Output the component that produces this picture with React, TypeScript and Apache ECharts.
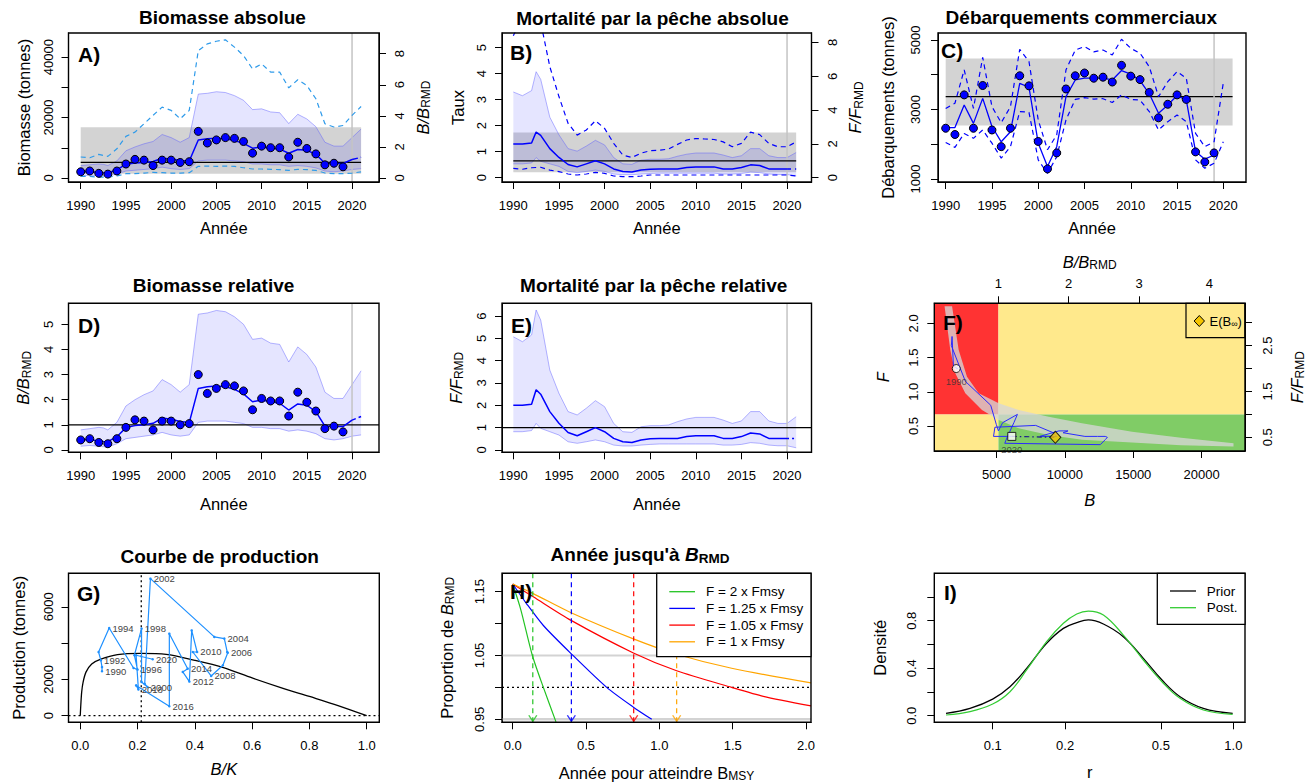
import React, { useEffect, useRef } from "react";
import * as echarts from "echarts";

const FONT = '"Liberation Sans", Arial, Helvetica, sans-serif';

// ---------------- DATA ----------------
// model years (with a half-year point where the peak sits)
const YEARS = [1990, 1991, 1992, 1992.5, 1993, 1994, 1995, 1996, 1997, 1998, 1999, 2000, 2001, 2002, 2003, 2004, 2005, 2006, 2007, 2008, 2009, 2010, 2011, 2012, 2013, 2014, 2015, 2016, 2017, 2018, 2019, 2020, 2021];
const ANNUAL = [1990, 1991, 1992, 1993, 1994, 1995, 1996, 1997, 1998, 1999, 2000, 2001, 2002, 2003, 2004, 2005, 2006, 2007, 2008, 2009, 2010, 2011, 2012, 2013, 2014, 2015, 2016, 2017, 2018, 2019, 2020, 2021];
const OBS_YEARS = [1990, 1991, 1992, 1993, 1994, 1995, 1996, 1997, 1998, 1999, 2000, 2001, 2002, 2003, 2004, 2005, 2006, 2007, 2008, 2009, 2010, 2011, 2012, 2013, 2014, 2015, 2016, 2017, 2018, 2019];
const C_LINE_YEARS = [1990, 1991, 1992, 1993, 1994, 1995, 1996, 1997, 1998, 1999, 2000, 2001, 2002, 2003, 2004, 2005, 2006, 2007, 2008, 2009, 2010, 2011, 2012, 2013, 2014, 2015, 2016, 2017, 2018, 2019, 2020];
const YEAR_TICKS = [1990, 1995, 2000, 2005, 2010, 2015, 2020];

// relative biomass B/Bmsy
const B_REL_MED = [0.40, 0.42, 0.36, 0.34, 0.33, 0.53, 0.89, 0.97, 1.00, 1.06, 1.27, 1.22, 1.13, 1.09, 2.45, 2.52, 2.55, 2.52, 2.41, 2.23, 1.92, 1.99, 1.92, 1.86, 1.59, 1.83, 1.78, 1.53, 0.95, 0.93, 0.93, 1.19, 1.33];
const B_REL_HI = [0.80, 0.85, 0.90, 0.88, 0.80, 1.10, 1.75, 2.00, 2.20, 2.35, 2.80, 2.60, 2.30, 2.60, 5.40, 5.45, 5.55, 5.50, 5.30, 5.00, 4.40, 4.45, 4.25, 4.20, 3.50, 4.10, 3.80, 3.30, 2.30, 2.05, 2.05, 2.60, 3.15];
const B_REL_LO = [0.15, 0.18, 0.15, 0.13, 0.12, 0.25, 0.45, 0.50, 0.55, 0.60, 0.70, 0.60, 0.55, 0.60, 1.10, 1.15, 1.15, 1.15, 1.10, 1.05, 0.90, 0.90, 0.85, 0.85, 0.75, 0.80, 0.75, 0.65, 0.45, 0.40, 0.45, 0.55, 0.60];
const B_REL_OBS = [0.40, 0.45, 0.30, 0.25, 0.45, 0.90, 1.20, 1.15, 0.80, 1.15, 1.15, 1.00, 1.05, 3.00, 2.25, 2.45, 2.60, 2.55, 2.35, 1.60, 2.05, 1.95, 1.95, 1.35, 2.30, 1.90, 1.55, 0.85, 0.95, 0.72];
const B_REL_DASH_HI = [1.35, 1.30, 1.52, 1.39, 1.88, 2.68, 2.95, 3.49, 4.03, 4.56, 4.35, 3.81, 4.35, 8.20, 8.63, 8.80, 8.89, 8.42, 7.88, 7.02, 7.34, 6.81, 6.81, 5.80, 6.32, 5.95, 5.10, 3.49, 3.28, 3.38, 4.03, 4.60];
const B_REL_DASH_LO = [0.10, 0.10, 0.06, 0.06, 0.13, 0.28, 0.28, 0.32, 0.36, 0.34, 0.32, 0.32, 0.34, 0.75, 0.77, 0.75, 0.77, 0.75, 0.66, 0.58, 0.58, 0.56, 0.54, 0.49, 0.56, 0.54, 0.49, 0.32, 0.28, 0.28, 0.32, 0.39];
const BMSY_BAND = [0.28, 3.27];

// relative fishing mortality F/Fmsy
const F_REL_MED = [2.00, 2.00, 2.05, 2.70, 2.50, 1.72, 1.20, 0.78, 0.64, 0.82, 1.00, 0.82, 0.52, 0.37, 0.34, 0.45, 0.50, 0.52, 0.52, 0.52, 0.60, 0.64, 0.64, 0.64, 0.52, 0.52, 0.60, 0.76, 0.72, 0.52, 0.52, 0.52, 0.52];
const F_REL_HI = [5.07, 4.85, 5.15, 6.27, 5.82, 3.58, 2.54, 1.72, 1.57, 1.87, 2.21, 1.94, 1.19, 0.82, 0.79, 1.04, 1.09, 1.09, 1.12, 1.27, 1.39, 1.46, 1.46, 1.46, 1.34, 1.19, 1.30, 1.72, 1.72, 1.30, 1.19, 1.19, 1.49];
const F_REL_LO = [0.82, 0.82, 0.87, 1.19, 0.97, 0.82, 0.67, 0.37, 0.30, 0.37, 0.45, 0.37, 0.22, 0.18, 0.18, 0.22, 0.25, 0.27, 0.27, 0.27, 0.27, 0.27, 0.27, 0.27, 0.22, 0.22, 0.25, 0.33, 0.30, 0.22, 0.19, 0.19, 0.10];
const F_REL_DASH_HI = [8.4, 9.5, 11.0, 9.2, 6.57, 4.80, 3.22, 2.52, 2.82, 3.37, 2.92, 2.03, 1.34, 1.20, 1.45, 1.60, 1.63, 1.69, 1.97, 2.23, 2.32, 2.29, 2.26, 2.12, 1.83, 2.03, 2.70, 2.55, 2.03, 1.83, 1.83, 2.12];
const F_REL_DASH_LO = [0.55, 0.50, 0.59, 0.62, 0.45, 0.36, 0.22, 0.16, 0.22, 0.32, 0.26, 0.10, 0.06, 0.06, 0.10, 0.16, 0.16, 0.16, 0.16, 0.16, 0.16, 0.16, 0.16, 0.16, 0.16, 0.16, 0.16, 0.16, 0.16, 0.16, 0.16, 0.10];
const FMSY_BAND = [0.32, 2.68];

// commercial landings (tonnes)
const LANDINGS_OBS = [2460, 2280, 3420, 2460, 3690, 2410, 1930, 2460, 3970, 3680, 2080, 1290, 1750, 3590, 3970, 4050, 3900, 3930, 3790, 4270, 3960, 3860, 3490, 2760, 3150, 3420, 3290, 1780, 1490, 1750];
const LANDINGS_MED = [2480, 2480, 3130, 2600, 3320, 2510, 2070, 2360, 3750, 3640, 2030, 1360, 1930, 3370, 3850, 3900, 3900, 3900, 3850, 4120, 4020, 3830, 3450, 2890, 3130, 3400, 3270, 1790, 1570, 1690];
const LANDINGS_HI = [3030, 3180, 4140, 3030, 4500, 3080, 2620, 3080, 4730, 4380, 2700, 1840, 2270, 4140, 4710, 4810, 4660, 4710, 4570, 5020, 4760, 4620, 4230, 3370, 3800, 4090, 3900, 2310, 1930, 2070, 3770];
const LANDINGS_LO = [2050, 1910, 2310, 2170, 2410, 2030, 1600, 1930, 2940, 2920, 1550, 1160, 1640, 2700, 3290, 3340, 3300, 3310, 3200, 3420, 3290, 3270, 2940, 2410, 2650, 2840, 2650, 1550, 1310, 1450, 2070];
const MSY = 3370;
const MSY_BAND = [2540, 4470];

// Kobe plot
const KOBE_BAND_HI_B = [1750, 2234, 2841, 3697, 5159, 6621, 8815, 11250, 14906, 18500, 22330];
const KOBE_BAND_HI_F = [2.25, 1.611, 1.221, 0.978, 0.832, 0.734, 0.636, 0.54, 0.417, 0.33, 0.25];
const KOBE_BAND_LO_B = [1200, 1620, 1986, 2717, 3938, 5159, 6621, 8815, 11250, 14906, 18500, 22330];
const KOBE_BAND_LO_F = [2.25, 1.611, 1.27, 0.978, 0.734, 0.588, 0.467, 0.369, 0.30, 0.26, 0.22, 0.20];
const EQ_B_REL = 1.81;
const EQ_F_REL = 0.50;

// production curve
const PROD_CURVE_BK = [0, 0.002, 0.005, 0.01, 0.02, 0.04, 0.07, 0.13, 0.21, 0.3, 0.4, 0.5, 0.6, 0.7, 0.8, 0.9, 1.0];
const PROD_CURVE_P = [0, 600, 1300, 1850, 2400, 2850, 3100, 3360, 3430, 3380, 3050, 2650, 2080, 1550, 1060, 560, 0];
const BMSY_K = 0.213;
const PROD_YEARS = [1990, 1991, 1992, 1993, 1994, 1995, 1996, 1997, 1998, 1999, 2000, 2001, 2002, 2003, 2004, 2005, 2006, 2007, 2008, 2009, 2010, 2011, 2012, 2013, 2014, 2015, 2016, 2017, 2018, 2019, 2020];
const PROD_BK = [0.076, 0.076, 0.072, 0.064, 0.101, 0.186, 0.200, 0.189, 0.214, 0.214, 0.235, 0.225, 0.245, 0.468, 0.503, 0.513, 0.515, 0.498, 0.457, 0.393, 0.408, 0.389, 0.381, 0.358, 0.375, 0.311, 0.311, 0.195, 0.203, 0.195, 0.253];
const PROD_P = [2450, 2680, 3050, 3510, 4830, 2630, 2540, 3330, 4800, 1860, 1580, 1750, 7550, 4340, 4250, 3510, 3470, 2780, 2190, 3510, 3510, 4700, 1880, 2410, 2590, 4520, 520, 1670, 1450, 3330, 3110];

// years to Bmsy projections
const H_GREEN_X = [0, 0.055, 0.134, 0.209, 0.295];
const H_GREEN_Y = [1.162, 1.122, 1.05, 1.0, 0.946];
const H_BLUE_X = [0, 0.095, 0.209, 0.398, 0.641, 0.823, 0.948];
const H_BLUE_Y = [1.162, 1.131, 1.097, 1.053, 1.0, 0.969, 0.95];
const H_RED_X = [0, 0.14, 0.398, 0.823, 1.118, 1.493, 1.709, 2.034];
const H_RED_Y = [1.162, 1.142, 1.105, 1.054, 1.026, 1.0, 0.986, 0.971];
const H_ORANGE_X = [0, 0.14, 0.398, 0.823, 1.118, 1.493, 2.034];
const H_ORANGE_Y = [1.162, 1.147, 1.117, 1.076, 1.052, 1.03, 1.007];
const H_REACH = [0.137, 0.40, 0.825, 1.118];
const H_LABELS = ["F = 2 x Fmsy", "F = 1.25 x Fmsy", "F = 1.05 x Fmsy", "F = 1 x Fmsy"];

// r density
const R_VALUES = [0.064, 0.0805, 0.1, 0.118, 0.1384, 0.1675, 0.1967, 0.2235, 0.2497, 0.2884, 0.349, 0.4227, 0.5053, 0.6004, 0.7504, 0.9936];
const PRIOR_DENS = [0.02, 0.062, 0.14, 0.244, 0.398, 0.609, 0.735, 0.783, 0.806, 0.772, 0.665, 0.483, 0.30, 0.16, 0.062, 0.02];
const POST_DENS = [0.006, 0.034, 0.098, 0.202, 0.385, 0.623, 0.778, 0.856, 0.881, 0.848, 0.679, 0.469, 0.286, 0.146, 0.048, 0.011];

// ---------------- STYLE / LAYOUT ----------------
const H_COLORS = ["#22c322", "#0000ff", "#ff0000", "#ffa500"];
const GRIDS = [
  { l: 68.5, t: 33, r: 379, b: 182 },
  { l: 502, t: 33, r: 811.5, b: 182 },
  { l: 938, t: 33, r: 1246, b: 182 },
  { l: 68.5, t: 303.3, r: 379, b: 452.3 },
  { l: 502, t: 303.3, r: 811.5, b: 452.3 },
  { l: 934.3, t: 303.3, r: 1245, b: 451 },
  { l: 68.5, t: 573.3, r: 379.3, b: 722.3 },
  { l: 502, t: 573.3, r: 811, b: 722.3 },
  { l: 934.3, t: 573.3, r: 1245, b: 722.3 },
];

const RICH: any = {
  i: { fontStyle: "italic", fontSize: 16.5, fontFamily: FONT, color: "#000" },
  s: { fontSize: 12, fontFamily: FONT, color: "#000", padding: [7, 0, 0, 0] },
  n: { fontSize: 16.5, fontFamily: FONT, color: "#000" },
};

const fInt = (v: number) => String(Math.round(v));
const f1 = (v: number) => v.toFixed(1);
const f2 = (v: number) => v.toFixed(2);

function ax(o: any) {
  const isY = o.dim === "y";
  return {
    type: o.type || "value",
    logBase: o.type === "log" ? 10 : undefined,
    gridIndex: o.grid,
    position: o.pos,
    min: o.min,
    max: o.max,
    axisLine: { show: true, onZero: false, lineStyle: { color: "#000", width: 1 } },
    axisTick: { show: true, inside: false, length: 7, customValues: o.ticks, lineStyle: { color: "#000", width: 1 } },
    axisLabel: {
      show: true,
      customValues: o.labels || o.ticks,
      formatter: o.fmt || fInt,
      rotate: isY ? 90 : 0,
      margin: o.margin != null ? o.margin : isY ? 14 : 17,
      fontSize: 13,
      color: "#000",
      fontFamily: FONT,
      hideOverlap: false,
    },
    splitLine: { show: false },
    minorTick: { show: false },
    name: o.name || "",
    nameLocation: "middle",
    nameGap: o.gap,
    nameTextStyle: { fontSize: 16.5, fontFamily: FONT, color: "#000", rich: RICH },
    silent: true,
  };
}

const pairs = (xs: number[], ys: number[]) => xs.map((x, i) => [x, ys[i]]);

function ln(xi: number, yi: number, data: number[][], color: string, width = 1, type: any = "solid", z = 3, extra: any = {}) {
  return {
    type: "line", xAxisIndex: xi, yAxisIndex: yi, data, symbol: "none", silent: true, clip: true, z,
    lineStyle: { color, width, type }, emphasis: { disabled: true }, ...extra,
  };
}
function poly(xi: number, yi: number, pts: number[][], fill: string, z = 1) {
  return {
    type: "custom", xAxisIndex: xi, yAxisIndex: yi, clip: true, silent: true, z,
    data: [pts[0]],
    renderItem: (_p: any, api: any) => ({
      type: "polygon",
      shape: { points: pts.map((p) => api.coord(p)) },
      style: { fill, stroke: "none" },
    }),
  };
}
const rectS = (xi: number, yi: number, x1: number, x2: number, y1: number, y2: number, fill: string, z = 1) =>
  poly(xi, yi, [[x1, y1], [x2, y1], [x2, y2], [x1, y2]], fill, z);
function band(xi: number, yi: number, xs: number[], lo: number[], hi: number[], fill: string, z = 2) {
  const pts = xs.map((x, i) => [x, hi[i]]).concat(xs.map((x, i) => [x, lo[i]]).reverse());
  return poly(xi, yi, pts, fill, z);
}
function dots(xi: number, yi: number, data: number[][]) {
  return {
    type: "scatter", xAxisIndex: xi, yAxisIndex: yi, data, symbol: "circle", symbolSize: 8, silent: true, z: 5,
    itemStyle: { color: "#0000ff", borderColor: "#000", borderWidth: 1, opacity: 1 },
  };
}

function buildOption(): any {
  const X_A = [1988.65, 2022.98];
  const X_B = [1988.76, 2022.68];
  const X_C = [1989.17, 2022.45];
  const Y_AR = [-0.257, 9.33];
  const Y_BR = [-0.254, 8.56];
  const Y_C = [913, 5201];
  const Y_D = [-0.0915, 5.835];
  const Y_E = [-0.103, 6.57];
  const X_FT = [0.0875, 4.508];
  const Y_FR = [0.2015, 3.424];
  const X_G = [-0.041, 1.044];
  const Y_G = [-364, 7846];
  const X_H = [-0.073, 2.034];
  const Y_H = [0.9453, 1.1788];

  const grid = GRIDS.map((g) => ({ left: g.l, top: g.t, width: g.r - g.l, height: g.b - g.t, show: false, containLabel: false, outerBoundsMode: "none" }));

  const xAxis = [
    ax({ dim: "x", grid: 0, pos: "bottom", min: X_A[0], max: X_A[1], ticks: YEAR_TICKS, name: "Année", gap: 37 }),
    ax({ dim: "x", grid: 1, pos: "bottom", min: X_B[0], max: X_B[1], ticks: YEAR_TICKS, name: "Année", gap: 37 }),
    ax({ dim: "x", grid: 2, pos: "bottom", min: X_C[0], max: X_C[1], ticks: YEAR_TICKS, name: "Année", gap: 37 }),
    ax({ dim: "x", grid: 3, pos: "bottom", min: X_A[0], max: X_A[1], ticks: YEAR_TICKS, name: "Année", gap: 43 }),
    ax({ dim: "x", grid: 4, pos: "bottom", min: X_B[0], max: X_B[1], ticks: YEAR_TICKS, name: "Année", gap: 43 }),
    ax({ dim: "x", grid: 5, pos: "bottom", min: 450, max: 23170, ticks: [5000, 10000, 15000, 20000], name: "{i|B}", gap: 40 }),
    ax({ dim: "x", grid: 6, pos: "bottom", min: X_G[0], max: X_G[1], ticks: [0, 0.2, 0.4, 0.6, 0.8, 1.0], fmt: f1, name: "{i|B/K}", gap: 38 }),
    ax({ dim: "x", grid: 7, pos: "bottom", min: X_H[0], max: X_H[1], ticks: [0, 0.5, 1, 1.5, 2], fmt: f1, name: "Année pour atteindre B{s|MSY}", gap: 41 }),
    ax({ dim: "x", grid: 8, pos: "bottom", type: "log", min: 0.0572, max: 1.118, ticks: [0.1, 0.2, 0.5, 1.0], fmt: f1, name: "r", gap: 41 }),
    ax({ dim: "x", grid: 5, pos: "top", min: X_FT[0], max: X_FT[1], ticks: [1, 2, 3, 4], name: "{i|B/B}{s|RMD}", gap: 32, margin: 13 }),
  ];
  const yAxis = [
    ax({ dim: "y", grid: 0, pos: "left", min: -1321, max: 47956, ticks: [0, 10000, 20000, 30000, 40000], labels: [0, 20000, 40000], name: "Biomasse (tonnes)", gap: 36 }),
    ax({ dim: "y", grid: 1, pos: "left", min: -0.165, max: 5.565, ticks: [0, 1, 2, 3, 4, 5], name: "Taux", gap: 36 }),
    ax({ dim: "y", grid: 2, pos: "left", min: Y_C[0], max: Y_C[1], ticks: [1000, 2000, 3000, 4000, 5000], labels: [1000, 3000, 5000], name: "Débarquements (tonnes)", gap: 42, margin: 16 }),
    ax({ dim: "y", grid: 3, pos: "left", min: Y_D[0], max: Y_D[1], ticks: [0, 1, 2, 3, 4, 5], name: "{i|B/B}{s|RMD}", gap: 36 }),
    ax({ dim: "y", grid: 4, pos: "left", min: Y_E[0], max: Y_E[1], ticks: [0, 1, 2, 3, 4, 5, 6], name: "{i|F/F}{s|RMD}", gap: 37 }),
    ax({ dim: "y", grid: 5, pos: "left", min: 0.135, max: 2.294, ticks: [0.5, 1.0, 1.5, 2.0], fmt: f1, name: "{i|F}", gap: 43 }),
    ax({ dim: "y", grid: 6, pos: "left", min: Y_G[0], max: Y_G[1], ticks: [0, 2000, 4000, 6000], labels: [0, 2000, 6000], name: "Production (tonnes)", gap: 41 }),
    ax({ dim: "y", grid: 7, pos: "left", min: Y_H[0], max: Y_H[1], ticks: [0.95, 1.0, 1.05, 1.1, 1.15], labels: [0.95, 1.05, 1.15], fmt: f2, name: "Proportion de {i|B}{s|RMD}", gap: 46, margin: 16 }),
    ax({ dim: "y", grid: 8, pos: "left", min: -0.0556, max: 1.199, ticks: [0, 0.2, 0.4, 0.6, 0.8, 1.0], labels: [0, 0.4, 0.8], fmt: f1, name: "Densité", gap: 46, margin: 16 }),
    ax({ dim: "y", grid: 0, pos: "right", min: Y_AR[0], max: Y_AR[1], ticks: [0, 2, 4, 6, 8], name: "{i|B/B}{s|RMD}", gap: 34 }),
    ax({ dim: "y", grid: 1, pos: "right", min: Y_BR[0], max: Y_BR[1], ticks: [0, 2, 4, 6, 8], name: "{i|F/F}{s|RMD}", gap: 34 }),
    ax({ dim: "y", grid: 5, pos: "right", min: Y_FR[0], max: Y_FR[1], ticks: [0.5, 1.0, 1.5, 2.0, 2.5, 3.0], labels: [0.5, 1.5, 2.5], fmt: f1, name: "{i|F/F}{s|RMD}", gap: 42, margin: 16 }),
  ];

  const PURPLE = "rgba(0,0,255,0.10)";
  const PURPLE_EDGE = "rgba(90,90,255,0.45)";
  const GRAY = "#d3d3d3";
  const VGRAY = "#c4c4c4";
  const LBLUE = "#2f9bea";
  const nHist = 32; // points up to 2020
  const medHist = (arr: number[]) => pairs(YEARS.slice(0, nHist), arr.slice(0, nHist));
  const medProj = (arr: number[]) => pairs(YEARS.slice(nHist - 1), arr.slice(nHist - 1));

  const series: any[] = [];
  // ---- A ----
  series.push(
    rectS(0, 9, 1990, 2021, BMSY_BAND[0], BMSY_BAND[1], GRAY, 1),
    band(0, 9, YEARS, B_REL_LO, B_REL_HI, PURPLE, 2),
    ln(0, 9, pairs(YEARS, B_REL_HI), PURPLE_EDGE, 1),
    ln(0, 9, pairs(YEARS, B_REL_LO), PURPLE_EDGE, 1),
    ln(0, 9, [[2020, Y_AR[0]], [2020, Y_AR[1]]], VGRAY, 1.5),
    ln(0, 9, pairs(ANNUAL, B_REL_DASH_HI), LBLUE, 1.2, [5, 4]),
    ln(0, 9, pairs(ANNUAL, B_REL_DASH_LO), LBLUE, 1.2, [5, 4]),
    ln(0, 9, [[1990, 1], [2021, 1]], "#000", 1.3),
    ln(0, 9, medHist(B_REL_MED), "#0000ff", 1.5, "solid", 4),
    ln(0, 9, medProj(B_REL_MED), "#0000ff", 1.5, [6, 3, 1.5, 3], 4),
    dots(0, 9, pairs(OBS_YEARS, B_REL_OBS))
  );
  // ---- B ----
  series.push(
    rectS(1, 10, 1990, 2021, FMSY_BAND[0], FMSY_BAND[1], GRAY, 1),
    band(1, 10, YEARS, F_REL_LO, F_REL_HI, PURPLE, 2),
    ln(1, 10, pairs(YEARS, F_REL_HI), PURPLE_EDGE, 1),
    ln(1, 10, pairs(YEARS, F_REL_LO), PURPLE_EDGE, 1),
    ln(1, 10, [[2020, Y_BR[0]], [2020, Y_BR[1]]], VGRAY, 1.5),
    ln(1, 10, pairs(ANNUAL, F_REL_DASH_HI), "#0000ff", 1.2, [5, 4]),
    ln(1, 10, pairs(ANNUAL, F_REL_DASH_LO), "#0000ff", 1.2, [5, 4]),
    ln(1, 10, [[1990, 1], [2021, 1]], "#000", 1.3),
    ln(1, 10, medHist(F_REL_MED), "#0000ff", 1.5, "solid", 4),
    ln(1, 10, medProj(F_REL_MED), "#0000ff", 1.5, [4, 4], 4)
  );
  // ---- C ----
  series.push(
    rectS(2, 2, 1990, 2021, MSY_BAND[0], MSY_BAND[1], GRAY, 1),
    ln(2, 2, [[1990, MSY], [2021, MSY]], "#000", 1.3),
    ln(2, 2, [[2019, Y_C[0]], [2019, Y_C[1]]], VGRAY, 1.5),
    ln(2, 2, pairs(C_LINE_YEARS, LANDINGS_HI), "#0000ff", 1.2, [5, 4]),
    ln(2, 2, pairs(C_LINE_YEARS, LANDINGS_LO), "#0000ff", 1.2, [5, 4]),
    ln(2, 2, pairs(OBS_YEARS, LANDINGS_MED), "#0000ff", 1.3, "solid", 4),
    dots(2, 2, pairs(OBS_YEARS, LANDINGS_OBS))
  );
  // ---- D ----
  series.push(
    band(3, 3, YEARS, B_REL_LO, B_REL_HI, PURPLE, 2),
    ln(3, 3, pairs(YEARS, B_REL_HI), PURPLE_EDGE, 1),
    ln(3, 3, pairs(YEARS, B_REL_LO), PURPLE_EDGE, 1),
    ln(3, 3, [[2020, Y_D[0]], [2020, Y_D[1]]], VGRAY, 1.5),
    ln(3, 3, [[X_A[0], 1], [X_A[1], 1]], "#000", 1.3),
    ln(3, 3, medHist(B_REL_MED), "#0000ff", 1.5, "solid", 4),
    ln(3, 3, medProj(B_REL_MED), "#0000ff", 1.5, [4, 3], 4),
    dots(3, 3, pairs(OBS_YEARS, B_REL_OBS))
  );
  // ---- E ----
  series.push(
    band(4, 4, YEARS, F_REL_LO, F_REL_HI, PURPLE, 2),
    ln(4, 4, pairs(YEARS, F_REL_HI), PURPLE_EDGE, 1),
    ln(4, 4, pairs(YEARS, F_REL_LO), PURPLE_EDGE, 1),
    ln(4, 4, [[2020, Y_E[0]], [2020, Y_E[1]]], VGRAY, 1.5),
    ln(4, 4, [[X_B[0], 1], [X_B[1], 1]], "#000", 1.3),
    ln(4, 4, medHist(F_REL_MED), "#0000ff", 1.5, "solid", 4),
    ln(4, 4, medProj(F_REL_MED), "#0000ff", 1.5, [2, 3], 4)
  );
  // ---- F (Kobe) ----
  const traj = YEARS.slice(0, nHist).map((_, i) => [B_REL_MED[i], F_REL_MED[i]]);
  const last = traj[traj.length - 1];
  const kobeBand = pairs(KOBE_BAND_HI_B, KOBE_BAND_HI_F).concat(pairs(KOBE_BAND_LO_B, KOBE_BAND_LO_F).reverse());
  series.push(
    rectS(9, 11, X_FT[0], 1, 1, Y_FR[1], "#ff3333", 1),
    rectS(9, 11, 1, X_FT[1], 1, Y_FR[1], "#ffe98c", 1),
    rectS(9, 11, X_FT[0], 1, Y_FR[0], 1, "#ffe98c", 1),
    rectS(9, 11, 1, X_FT[1], Y_FR[0], 1, "#80cc66", 1),
    poly(5, 5, kobeBand, "rgba(214,214,214,0.78)", 2),
    ln(9, 11, traj, "#2a2aff", 1, "solid", 3),
    ln(9, 11, [last, [EQ_B_REL, EQ_F_REL]], "#1a1a8c", 1.2, [5, 3, 1.5, 3], 3),
    {
      type: "scatter", xAxisIndex: 9, yAxisIndex: 11, silent: true, z: 5,
      data: [traj[0]], symbol: "circle", symbolSize: 8,
      itemStyle: { color: "#fff", borderColor: "#000", borderWidth: 1 },
      label: { show: true, position: "bottom", distance: 3, formatter: String(YEARS[0]), fontSize: 9.5, color: "#333", fontFamily: FONT },
    },
    {
      type: "scatter", xAxisIndex: 9, yAxisIndex: 11, silent: true, z: 5,
      data: [last], symbol: "rect", symbolSize: 8,
      itemStyle: { color: "#fff", borderColor: "#000", borderWidth: 1 },
      label: { show: true, position: "bottom", distance: 4, formatter: String(YEARS[nHist - 1]), fontSize: 9.5, color: "#333", fontFamily: FONT },
    },
    {
      type: "scatter", xAxisIndex: 9, yAxisIndex: 11, silent: true, z: 5,
      data: [[EQ_B_REL, EQ_F_REL]], symbol: "diamond", symbolSize: [11, 12],
      itemStyle: { color: "#f5c400", borderColor: "#000", borderWidth: 1 },
    }
  );
  // ---- G ----
  series.push(
    ln(6, 6, [[X_G[0], 0], [X_G[1], 0]], "#000", 1.3, [2, 3]),
    ln(6, 6, [[BMSY_K, Y_G[0]], [BMSY_K, Y_G[1]]], "#000", 1.3, [2, 3]),
    ln(6, 6, pairs(PROD_CURVE_BK, PROD_CURVE_P), "#000", 1.3, "solid", 3, { smooth: 0.3 }),
    {
      type: "line", xAxisIndex: 6, yAxisIndex: 6, silent: true, clip: true, z: 4,
      data: PROD_YEARS.map((y, i) => [PROD_BK[i], PROD_P[i], y]),
      symbol: "circle", symbolSize: 2.5, showSymbol: true,
      itemStyle: { color: "#1e90ff" },
      lineStyle: { color: "#1e90ff", width: 1.2 },
      label: {
        show: true, position: "right", distance: 2, fontSize: 9.5, color: "#444", fontFamily: FONT,
        formatter: (p: any) => (p.data[2] % 2 === 0 ? String(p.data[2]) : ""),
      },
      emphasis: { disabled: true },
    }
  );
  // ---- H ----
  const hCurves = [pairs(H_GREEN_X, H_GREEN_Y), pairs(H_BLUE_X, H_BLUE_Y), pairs(H_RED_X, H_RED_Y), pairs(H_ORANGE_X, H_ORANGE_Y)];
  series.push(
    ln(7, 7, [[X_H[0], 1.05], [X_H[1], 1.05]], "#d3d3d3", 2),
    ln(7, 7, [[X_H[0], 0.95], [X_H[1], 0.95]], "#d3d3d3", 2.5),
    ln(7, 7, [[X_H[0], 1.0], [X_H[1], 1.0]], "#000", 1.3, [2, 3])
  );
  hCurves.forEach((c, k) => series.push(ln(7, 7, c, H_COLORS[k], 1.2, "solid", 3, { smooth: 0.25 })));
  H_REACH.forEach((x, k) => {
    series.push(ln(7, 7, [[x, Y_H[1]], [x, Y_H[0]]], H_COLORS[k], 1.2, [5, 4], 3));
    series.push({
      type: "scatter", xAxisIndex: 7, yAxisIndex: 7, silent: true, z: 4,
      data: [[x, Y_H[0]]], symbol: "path://M0,0 L5,7 L10,0", symbolSize: [8, 6], symbolOffset: [0, -4],
      itemStyle: { color: "none", borderColor: H_COLORS[k], borderWidth: 1.2 },
    });
  });
  // ---- I ----
  series.push(
    ln(8, 8, pairs(R_VALUES, PRIOR_DENS), "#000", 1.3, "solid", 3, { smooth: 0.4 }),
    ln(8, 8, pairs(R_VALUES, POST_DENS), "#33cc33", 1.2, "solid", 3, { smooth: 0.4 })
  );

  // ---------- graphics ----------
  const txt = (x: number, y: number, text: string, size: number, extra: any = {}) => ({
    type: "text", x, y, silent: true, z: 100,
    style: { text, fontSize: size, fontFamily: FONT, fill: "#000", align: "center", verticalAlign: "middle", ...extra },
  });
  const graphic: any[] = [];
  GRIDS.forEach((g) =>
    graphic.push({ type: "rect", silent: true, z: 100, shape: { x: g.l, y: g.t, width: g.r - g.l, height: g.b - g.t }, style: { fill: "none", stroke: "#000", lineWidth: 1.4 } })
  );
  const TB = { fontWeight: "bold" };
  graphic.push(
    txt(222.5, 17, "Biomasse absolue", 19, TB),
    txt(652.5, 18.3, "Mortalité par la pêche absolue", 19, TB),
    txt(1081.3, 17, "Débarquements commerciaux", 19, TB),
    txt(213.5, 285, "Biomasse relative", 19, TB),
    txt(653.7, 285, "Mortalité par la pêche relative", 19, TB),
    txt(219.7, 556.7, "Courbe de production", 19, TB),
    txt(640, 554, "Année jusqu'à {bi|B}{bs|RMD}", 19, {
      fontWeight: "bold",
      rich: {
        bi: { fontStyle: "italic", fontWeight: "bold", fontSize: 19, fontFamily: FONT, fill: "#000" },
        bs: { fontWeight: "bold", fontSize: 13.5, fontFamily: FONT, fill: "#000", padding: [9, 0, 0, 0] },
      },
    })
  );
  const LET = { fontWeight: "bold", align: "left" };
  graphic.push(
    txt(78, 54, "A)", 21, LET),
    txt(510, 52, "B)", 21, LET),
    txt(941, 50, "C)", 21, LET),
    txt(78, 325, "D)", 21, LET),
    txt(511, 325, "E)", 21, LET),
    txt(943, 322, "F)", 21, LET),
    txt(77, 593, "G)", 21, LET),
    txt(510, 591, "H)", 21, LET),
    txt(944, 592, "I)", 21, LET)
  );
  // F legend
  graphic.push(
    { type: "rect", silent: true, z: 100, shape: { x: 1186, y: 303.3, width: 59, height: 34.4 }, style: { fill: "none", stroke: "#000", lineWidth: 1.2 } },
    { type: "polygon", silent: true, z: 100, shape: { points: [[1199.3, 315.5], [1204.5, 321], [1199.3, 326.5], [1194.1, 321]] }, style: { fill: "#f5c400", stroke: "#000", lineWidth: 1 } },
    txt(1209.5, 321, "E(B{sb|∞})", 13, { align: "left", rich: { sb: { fontSize: 9, fontFamily: FONT, fill: "#000", padding: [5, 0, 0, 0] } } })
  );
  // H legend
  graphic.push({ type: "rect", silent: true, z: 100, shape: { x: 656.7, y: 573.3, width: 154.3, height: 83.4 }, style: { fill: "#fff", stroke: "#000", lineWidth: 1.3 } });
  H_LABELS.forEach((t, k) => {
    const y = 591.7 + k * 16.7;
    graphic.push(
      { type: "line", silent: true, z: 101, shape: { x1: 669.3, y1: y, x2: 695, y2: y }, style: { stroke: H_COLORS[k], lineWidth: 1.3 } },
      txt(706, y, t, 13.5, { align: "left", z: 101 })
    );
  });
  // I legend
  graphic.push({ type: "rect", silent: true, z: 100, shape: { x: 1157.3, y: 573.3, width: 87.7, height: 51 }, style: { fill: "#fff", stroke: "#000", lineWidth: 1.3 } });
  [["Prior", "#000"], ["Post.", "#33cc33"]].forEach(([t, c], k) => {
    const y = 591 + k * 16.7;
    graphic.push(
      { type: "line", silent: true, z: 101, shape: { x1: 1170, y1: y, x2: 1196, y2: y }, style: { stroke: c, lineWidth: 1.3 } },
      txt(1206.7, y, t, 13.5, { align: "left" })
    );
  });

  return {
    animation: false,
    backgroundColor: "#fff",
    textStyle: { fontFamily: FONT },
    grid,
    xAxis,
    yAxis,
    series,
    graphic: { elements: graphic },
  };
}

export default function App() {
  const ref = useRef<HTMLDivElement>(null);
  useEffect(() => {
    if (!ref.current) return;
    const chart = echarts.init(ref.current, null, { renderer: "svg", width: 1307, height: 784 });
    chart.setOption(buildOption());
    return () => chart.dispose();
  }, []);
  return <div ref={ref} style={{ position: "fixed", left: 0, top: 0, width: 1307, height: 784, background: "#fff" }} />;
}
